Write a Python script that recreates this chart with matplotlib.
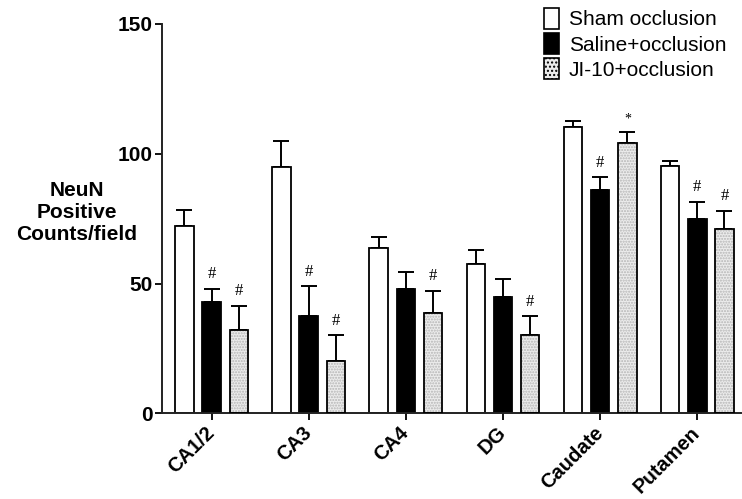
import matplotlib
matplotlib.use("Agg")
import matplotlib.pyplot as plt
from matplotlib.patches import Patch
import numpy as np

categories = ["CA1/2", "CA3", "CA4", "DG", "Caudate", "Putamen"]
series_names = ["Sham occlusion", "Saline+occlusion", "JI-10+occlusion"]
sham = [72, 95, 63.5, 57.5, 110.3, 95.2]
sham_err = [6.5, 10, 4.5, 5.5, 2.2, 2.2]
saline = [43, 37.5, 48, 45, 86, 75]
saline_err = [5, 11.5, 6.5, 6.7, 5, 6.5]
ji10 = [32, 20, 38.5, 30, 104, 71]
ji10_err = [9.5, 10, 8.7, 7.3, 4.5, 7]
saline_marks = ["#", "#", "", "", "#", "#"]
ji10_marks = ["#", "#", "#", "#", "*", "#"]
yticks = [0, 50, 100, 150]

plt.rcParams['font.family'] = ['Liberation Sans', 'DejaVu Sans']

fig = plt.figure(figsize=(7.42, 4.99), dpi=100)
ax = fig.add_axes([162/742, 1-413.3/499, (741-162)/742, (413.3-24)/499])

x = np.arange(len(categories))
pitch = 0.28
width = 0.19

# sham
ax.bar(x - pitch, sham, width, color="white", edgecolor="black", linewidth=1.3, zorder=2)
ax.errorbar(x - pitch, sham, yerr=[np.zeros(len(sham)), sham_err], fmt="none",
            ecolor="black", elinewidth=1.4, capsize=6, capthick=1.4, zorder=1)
# saline
ax.bar(x, saline, width, color="black", edgecolor="black", linewidth=1.3, zorder=2)
ax.errorbar(x, saline, yerr=[np.zeros(len(saline)), saline_err], fmt="none",
            ecolor="black", elinewidth=1.4, capsize=6, capthick=1.4, zorder=1)
# JI-10
ax.bar(x + pitch, ji10, width, color="#ececec", edgecolor="#b5b5b5", linewidth=0,
       hatch="......", zorder=2)
ax.bar(x + pitch, ji10, width, fill=False, edgecolor="black", linewidth=1.3, zorder=3)
ax.errorbar(x + pitch, ji10, yerr=[np.zeros(len(ji10)), ji10_err], fmt="none",
            ecolor="black", elinewidth=1.4, capsize=6, capthick=1.4, zorder=1)

for xi, v, e, m in zip(x, saline, saline_err, saline_marks):
    if m:
        ax.text(xi, v + e + 2.5, m, ha="center", va="bottom", fontsize=12,
                family=["Liberation Serif"])
for xi, v, e, m in zip(x + pitch, ji10, ji10_err, ji10_marks):
    if m == "*":
        ax.text(xi, v + e + 2.5, m, ha="center", va="bottom", fontsize=10,
                family=["Liberation Serif"])
    elif m:
        ax.text(xi, v + e + 2.5, m, ha="center", va="bottom", fontsize=12,
                family=["Liberation Serif"])

ax.set_ylim(0, 150)
ax.set_xlim(-0.51, 5.45)
ax.set_yticks(yticks)
ax.set_yticklabels([str(t) for t in yticks], fontsize=15, fontweight="bold")
ax.set_xticks(x)
ax.set_xticklabels(categories, fontsize=14.5, fontweight="bold", rotation=45,
                   ha="right", va="center", rotation_mode="anchor")
ax.tick_params(axis="x", length=5, width=1.3, pad=7)
ax.tick_params(axis="y", length=5, width=1.3, pad=2)
for s in ["top", "right"]:
    ax.spines[s].set_visible(False)
for s in ["left", "bottom"]:
    ax.spines[s].set_linewidth(1.4)
    ax.spines[s].set_color("#222222")

fig.text(77/742, 1-212/499, "NeuN\nPositive\nCounts/field", ha="center", va="center",
         fontsize=15, fontweight="bold", linespacing=1.2)

handles = [Patch(facecolor="white", edgecolor="black", linewidth=1.2),
           Patch(facecolor="black", edgecolor="black", linewidth=1.2),
           Patch(facecolor="#ececec", edgecolor="black", linewidth=1.2, hatch="....")]
leg = fig.legend(handles, series_names, loc="upper left",
                 bbox_to_anchor=(544/742, 1-8/499), frameon=False, fontsize=15,
                 handlelength=0.7, handleheight=1.15, handletextpad=0.5,
                 labelspacing=0.18, borderpad=0, borderaxespad=0)

fig.savefig("out.png", dpi=100)
